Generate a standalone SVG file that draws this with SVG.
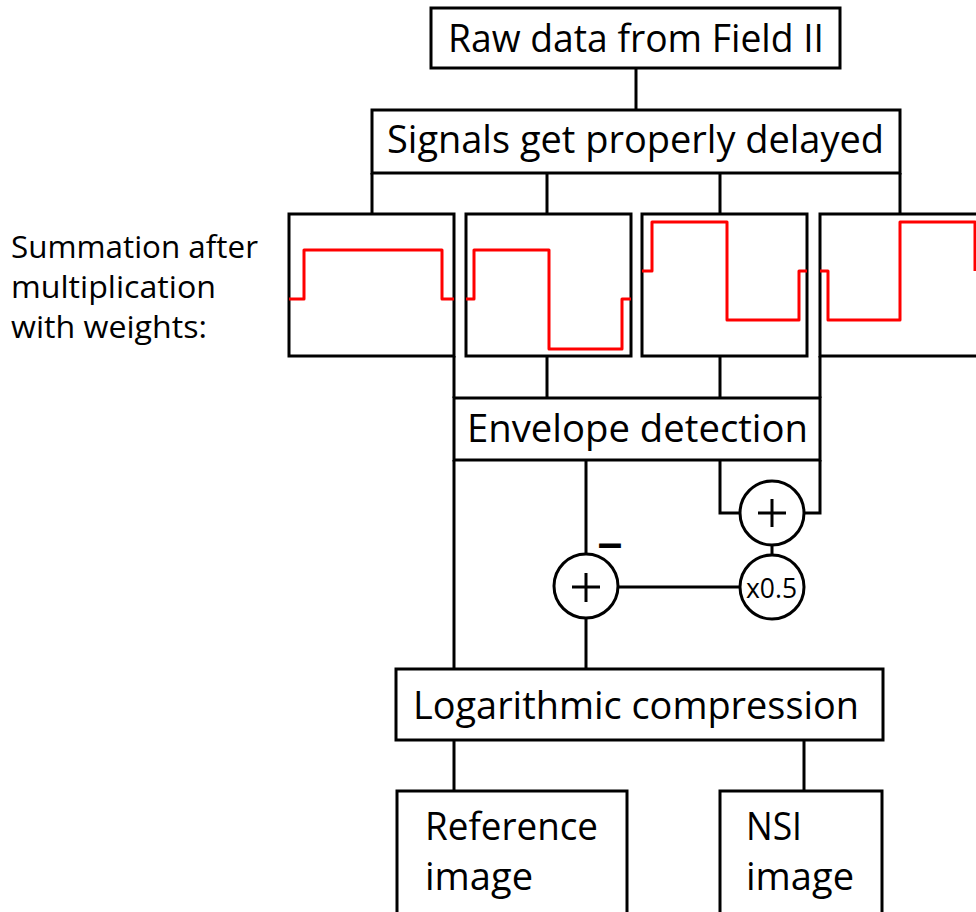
<svg xmlns="http://www.w3.org/2000/svg" width="976" height="912" viewBox="0 0 976 912">
<style>
.box{fill:#fff;stroke:#000;stroke-width:3}
.ln{fill:none;stroke:#000;stroke-width:3}
.wave{fill:none;stroke:#ff0000;stroke-width:3;stroke-linejoin:round}
.t{font-family:"Open Sans","Noto Sans","Liberation Sans",sans-serif;font-size:38px;fill:#000}
.s{font-family:"Open Sans","Noto Sans","Liberation Sans",sans-serif;font-size:31px;fill:#000}
.c{fill:#fff;stroke:#000;stroke-width:3}
</style>
<rect width="976" height="912" fill="#fff"/>
<g id="connectors" class="ln">
<path d="M636 68V110"/>
<path d="M372 173V214M547 173V214M720 173V214M900 173V214"/>
<path d="M454 356V398M547 356V398M720 356V398M820 356V398"/>
<path d="M454 460V669"/>
<path d="M586 460V554M586 618V669"/>
<path d="M720 460V513H740M820 460V513H804"/>
<path d="M772 545V555"/>
<path d="M618 587H740"/>
<path d="M454 740V791M804 740V791"/>
</g>
<g id="raw">
<rect class="box" x="431" y="8" width="409" height="60"/>
<text class="t" x="448" y="52" textLength="376" lengthAdjust="spacingAndGlyphs">Raw data from Field II</text>
</g>
<g id="delay">
<rect class="box" x="372" y="110" width="528" height="63"/>
<text class="t" x="387" y="153" textLength="497" lengthAdjust="spacingAndGlyphs">Signals get properly delayed</text>
</g>
<g id="label">
<text class="s" x="11" y="258" textLength="247" lengthAdjust="spacingAndGlyphs">Summation after</text>
<text class="s" x="11" y="298" textLength="205" lengthAdjust="spacingAndGlyphs">multiplication</text>
<text class="s" x="11" y="338" textLength="196" lengthAdjust="spacingAndGlyphs">with weights:</text>
</g>
<g id="panel1">
<rect class="box" x="289" y="214" width="165" height="142"/>
<path class="wave" d="M289 299H304V250H442V299H454"/>
</g>
<g id="panel2">
<rect class="box" x="466" y="214" width="165" height="142"/>
<path class="wave" d="M466 299H474V250H549V349H622V299H631"/>
</g>
<g id="panel3">
<rect class="box" x="642" y="214" width="165" height="142"/>
<path class="wave" d="M642 271H652V222H727V320H799V271H807"/>
</g>
<g id="panel4">
<rect class="box" x="820" y="214" width="200" height="142"/>
<path class="wave" d="M820 271H828V320H900V222H975V271"/>
</g>
<g id="envelope">
<rect class="box" x="454" y="398" width="366" height="62"/>
<text class="t" x="467" y="442" textLength="341" lengthAdjust="spacingAndGlyphs">Envelope detection</text>
</g>
<g id="sum1">
<circle class="c" cx="772" cy="513" r="32"/>
<path class="ln" d="M758 513H786M772 499V527"/>
</g>
<g id="mult">
<circle class="c" cx="772" cy="587" r="32"/>
<text x="746" y="598" font-family="Open Sans,Noto Sans,sans-serif" font-size="28" textLength="51" lengthAdjust="spacingAndGlyphs">x0.5</text>
</g>
<g id="sum2">
<circle class="c" cx="586" cy="586" r="32"/>
<path class="ln" d="M572 587H600M586 573V602"/>
<text x="610" y="558" text-anchor="middle" font-family="Liberation Sans,Arial,sans-serif" font-weight="bold" font-size="44">–</text>
</g>
<g id="log">
<rect class="box" x="396" y="669" width="487" height="71"/>
<text class="t" x="413" y="719" textLength="446" lengthAdjust="spacingAndGlyphs">Logarithmic compression</text>
</g>
<g id="refimg">
<rect class="box" x="397" y="791" width="230" height="150"/>
<text class="t" x="425" y="840" textLength="173" lengthAdjust="spacingAndGlyphs">Reference</text>
<text class="t" x="425" y="890" textLength="108" lengthAdjust="spacingAndGlyphs">image</text>
</g>
<g id="nsiimg">
<rect class="box" x="720" y="791" width="162" height="150"/>
<text class="t" x="746" y="840" textLength="56" lengthAdjust="spacingAndGlyphs">NSI</text>
<text class="t" x="746" y="890" textLength="108" lengthAdjust="spacingAndGlyphs">image</text>
</g>
</svg>
